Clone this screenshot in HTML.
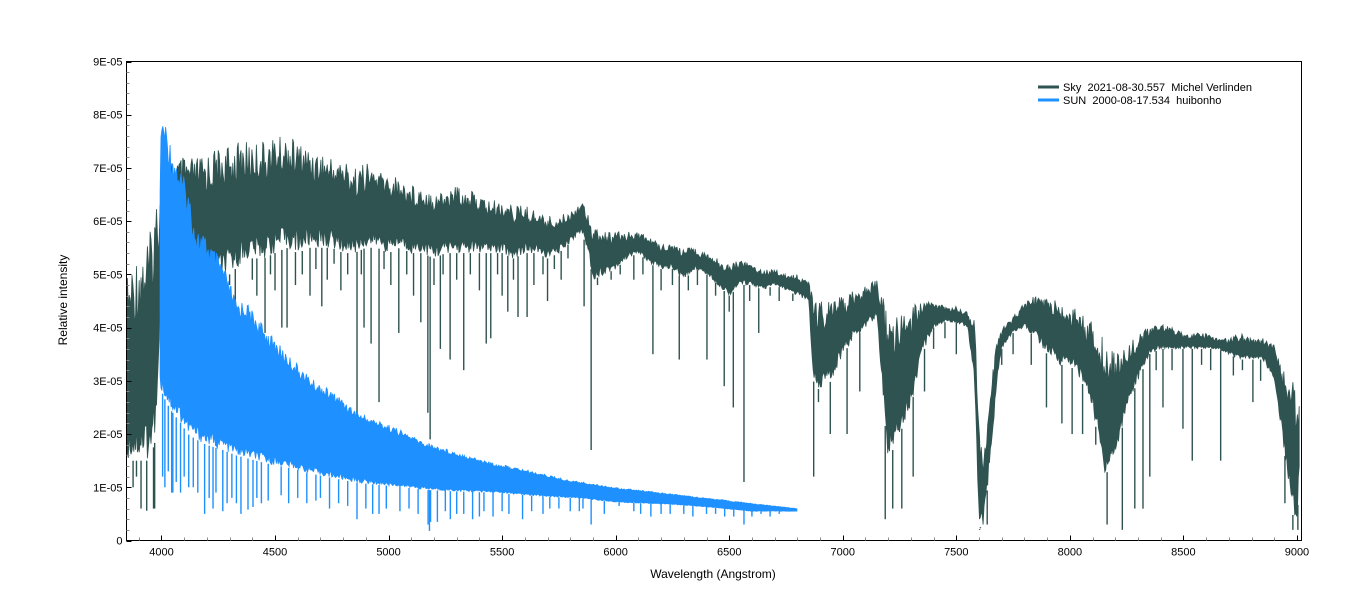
<!DOCTYPE html>
<html><head><meta charset="utf-8"><style>
html,body{margin:0;padding:0;background:#fff;}
svg{display:block;font-family:"Liberation Sans",Arial,sans-serif;}
</style></head><body>
<svg id="chart" width="1360" height="606" viewBox="0 0 1360 606">
<rect x="0" y="0" width="1360" height="606" fill="#fff"/>
<g id="plot"></g>
<g id="axes"></g>
<text x="713" y="578" font-size="12" text-anchor="middle" fill="#000">Wavelength (Angstrom)</text>
<text x="67" y="300" font-size="12" text-anchor="middle" fill="#000" transform="rotate(-90 67 300)">Relative intensity</text>
<g>
<line x1="1038" y1="87" x2="1059" y2="87" stroke="#2f5350" stroke-width="3"/>
<text x="1063" y="91" font-size="11" fill="#000" style="white-space:pre">Sky  2021-08-30.557  Michel Verlinden</text>
<line x1="1038" y1="100" x2="1059" y2="100" stroke="#1e90ff" stroke-width="3"/>
<text x="1063" y="104" font-size="11" fill="#000" style="white-space:pre">SUN  2000-08-17.534  huibonho</text>
</g>
</svg>
<script>
// ---- data (intensity in units of 1E-05) ----
const skyWave=[3846,3850,3900,3950,3980,4000,4050,4100,4150,4200,4250,4300,4350,4400,4450,4500,4550,4600,4650,4700,4750,4800,4850,4900,4950,5000,5050,5100,5150,5200,5250,5300,5350,5400,5450,5500,5550,5600,5650,5700,5750,5800,5850,5880,5900,5950,6000,6050,6100,6150,6200,6250,6300,6350,6400,6450,6500,6550,6600,6650,6700,6750,6800,6850,6870,6900,6950,7000,7050,7100,7150,7170,7200,7250,7300,7350,7400,7450,7500,7550,7580,7600,7620,7650,7680,7700,7750,7800,7850,7900,7950,8000,8050,8100,8150,8200,8250,8300,8350,8400,8450,8500,8550,8600,8650,8700,8750,8800,8850,8900,8950,8980,9000,9013];
const skyTop=[4.8,5.0,5.5,5.8,6.6,6.8,7.2,7.2,7.2,7.3,7.4,7.4,7.5,7.5,7.5,7.6,7.6,7.5,7.4,7.3,7.2,7.2,7.0,7.1,7.0,6.9,6.8,6.7,6.7,6.6,6.6,6.7,6.6,6.5,6.4,6.4,6.3,6.3,6.2,6.1,6.1,6.2,6.4,6.2,5.9,5.8,5.8,5.8,5.8,5.7,5.6,5.6,5.5,5.5,5.4,5.3,5.2,5.3,5.2,5.1,5.1,5.0,5.0,4.9,4.6,4.5,4.5,4.6,4.7,4.8,4.9,4.7,4.2,4.3,4.4,4.5,4.5,4.4,4.4,4.3,4.2,2.5,1.5,3.0,3.8,4.0,4.2,4.5,4.6,4.6,4.5,4.4,4.3,4.1,3.8,3.6,3.7,3.9,4.0,4.1,4.0,3.9,3.9,3.9,3.8,3.8,3.9,3.8,3.8,3.7,3.2,3.0,2.8,2.8];
const skyBottom=[1.5,1.5,1.5,1.5,2.0,5.0,5.2,5.2,4.9,4.9,4.9,5.0,5.2,5.3,5.3,5.4,5.5,5.4,5.5,5.5,5.5,5.4,5.4,5.5,5.5,5.4,5.5,5.4,5.4,5.3,5.4,5.4,5.4,5.4,5.4,5.4,5.3,5.4,5.4,5.3,5.4,5.6,5.8,5.4,4.9,5.0,5.1,5.3,5.4,5.2,5.1,5.1,4.9,5.1,5.0,4.8,4.6,4.8,4.8,4.7,4.8,4.7,4.6,4.5,3.0,2.8,3.0,3.5,3.8,4.0,4.2,3.0,1.5,2.0,2.5,3.5,4.0,4.1,4.1,4.0,3.0,0.2,0.3,1.5,3.0,3.6,3.9,4.0,3.8,3.5,3.3,3.3,3.0,2.5,1.2,1.5,2.5,3.0,3.5,3.6,3.6,3.6,3.6,3.6,3.6,3.5,3.4,3.4,3.4,3.0,1.5,0.5,0.3,1.5];
const skyLineWave=[3875,3890,3910,3935,3965,3970,4456,4530,4553,4654,4706,4861,4892,4923,4958,5045,5142,5173,5183,5228,5271,5331,5430,5450,5525,5570,5610,5700,5760,5861,5892,6164,6280,6402,6478,6518,6565,6630,6872,6893,6945,7019,7075,7187,7220,7260,7310,7360,7500,7603,7606,7636,7897,7965,8010,8056,8114,8164,8231,8286,8322,8352,8410,8498,8539,8664,8806,8947,8982,9004,
4070,4140,4180,4215,4240,4300,4325,4400,4420,4480,4500,4590,4620,4680,4730,4760,4790,4820,4880,4980,5010,5080,5110,5200,5240,5300,5360,5400,5480,5500,5550,5640,5680,5730,5790,5920,5980,6020,6080,6120,6200,6250,6320,6360,6440,6500,6590,6680,6720,6780,7400,7450,7700,7750,7830,8380,8450,8580,8620,8720,8760,8840];
const skyLineMin=[1.0,1.2,0.6,0.56,0.6,0.6,3.9,4.0,4.0,4.6,4.4,2.2,4.0,3.7,2.6,3.9,4.1,2.4,1.9,3.6,3.4,3.2,3.7,3.8,4.3,4.2,4.2,4.5,4.9,4.4,1.7,3.5,3.4,3.4,2.9,2.5,1.1,3.9,1.2,2.6,2.0,2.0,2.8,0.4,0.6,0.6,1.2,2.8,3.5,0.2,0.25,0.3,2.5,2.2,2.0,2.0,1.8,0.3,0.2,0.6,0.6,1.2,2.5,2.1,1.5,1.5,2.6,0.7,0.2,0.2,
5.0,4.6,4.9,4.7,5.2,4.8,4.5,4.9,4.6,5.0,4.7,4.8,5.0,5.1,4.9,5.2,4.7,5.0,5.0,5.1,4.8,5.0,4.6,4.8,5.0,4.9,5.0,4.7,5.0,4.6,4.9,4.8,5.0,5.1,5.3,4.8,4.9,5.0,4.9,5.0,4.7,4.8,4.7,4.8,4.6,4.3,4.5,4.6,4.5,4.5,3.6,3.8,3.3,3.5,3.3,3.2,3.2,3.3,3.2,3.1,3.2,3.0];

const sunWave=[3994,4001,4020,4049,4086,4116,4152,4196,4270,4328,4372,4460,4578,4666,4782,4870,5019,5165,5314,5460,5606,5800,5826,6000,6240,6400,6600,6799];
const sunTop=[7.0,8.08,7.85,7.35,6.97,6.64,5.9,5.72,5.22,4.53,4.5,3.97,3.4,3.03,2.72,2.4,2.15,1.84,1.65,1.46,1.33,1.13,1.12,1.0,0.88,0.8,0.7,0.6];
const sunBottom=[2.8,2.8,2.6,2.4,2.2,2.0,1.9,1.8,1.7,1.6,1.55,1.45,1.35,1.25,1.15,1.08,1.02,0.95,0.92,0.9,0.85,0.8,0.8,0.72,0.68,0.63,0.55,0.55];
const sunLineWave=[4005,4015,4045,4050,4084,4120,4190,4227,4270,4289,4350,4381,4403,4527,4700,4861,4930,4958,5174,5180,5185,5215,5272,5331,5370,5400,5460,5590,5750,5856,5892,6015,6155,6240,6400,6480,6565,6680,
4030,4065,4100,4140,4160,4210,4240,4310,4330,4420,4440,4470,4560,4600,4640,4680,4740,4780,4820,4900,4990,5050,5090,5130,5250,5300,5420,5500,5530,5630,5680,5710,5800,5840,5950,6080,6110,6200,6300,6340,6440,6520,6600,6640,6720];
const sunLineMin=[1.2,1.0,0.9,0.9,0.9,1.0,0.5,0.6,0.55,0.7,0.5,0.58,0.63,0.85,0.8,0.4,0.5,0.5,0.3,0.18,0.35,0.35,0.4,0.5,0.4,0.45,0.45,0.4,0.6,0.6,0.3,0.65,0.45,0.5,0.5,0.45,0.3,0.45,
1.3,1.1,1.2,1.0,0.9,0.8,0.9,0.8,0.7,0.8,0.7,0.75,0.7,0.8,0.7,0.75,0.6,0.7,0.65,0.6,0.6,0.55,0.6,0.5,0.55,0.5,0.55,0.55,0.5,0.55,0.5,0.6,0.55,0.55,0.5,0.55,0.5,0.5,0.5,0.45,0.5,0.45,0.45,0.5,0.5];

const xTicks=[4000,4500,5000,5500,6000,6500,7000,7500,8000,8500,9000];
const yTickVals=[0,1,2,3,4,5,6,7,8,9];
const yTickLabels=["0","1E-05","2E-05","3E-05","4E-05","5E-05","6E-05","7E-05","8E-05","9E-05"];

// ---- scales ----
const X0=126.5,X1=1301.5,Y0=540.5,Y1=61.5,WMIN=3846,WMAX=9020,VMAX=9;
const xs=w=>X0+(w-WMIN)*(X1-X0)/(WMAX-WMIN);
const ys=v=>Y0-v*(Y0-Y1)/VMAX;
const NS="http://www.w3.org/2000/svg";
const plot=document.getElementById('plot'),axes=document.getElementById('axes');
function interp(ws,vs,w){if(w<=ws[0])return vs[0];for(let i=1;i<ws.length;i++){if(w<=ws[i]){const t=(w-ws[i-1])/(ws[i]-ws[i-1]);return vs[i-1]+t*(vs[i]-vs[i-1]);}}return vs[vs.length-1];}
// deterministic jitter for jagged envelope texture (visual only)
function jit(k){const s=Math.sin(k*12.9898)*43758.5453;return s-Math.floor(s);}

function drawSeries(ws,top,bot,lw,lm,color,name,amp){
  const g=document.createElementNS(NS,'g');
  
  
  const w0=ws[0],w1=ws[ws.length-1];
  let topPts=[],botPts=[];
  let k=0;
  for(let w=w0;w<=w1;w+=4){
    k++;
    const t=interp(ws,top,w),b=interp(ws,bot,w);
    const span=Math.max(0,t-b);
    topPts.push(xs(w).toFixed(1)+','+ys(t-jit(k)*span*amp).toFixed(1));
    botPts.push(xs(w).toFixed(1)+','+ys(b+jit(k+999)*span*amp*0.6).toFixed(1));
  }
  const p=document.createElementNS(NS,'polygon');
  p.setAttribute('points',topPts.concat(botPts.reverse()).join(' '));
  p.setAttribute('fill',color);p.setAttribute('stroke',color);p.setAttribute('stroke-width','0.8');
  
  
  g.appendChild(p);
  for(let i=0;i<lw.length;i++){
    const l=document.createElementNS(NS,'line');
    const x=xs(lw[i]);
    l.setAttribute('x1',x);l.setAttribute('x2',x);
    l.setAttribute('y1',ys(interp(ws,bot,lw[i])));l.setAttribute('y2',ys(lm[i]));
    l.setAttribute('stroke',color);l.setAttribute('stroke-width','1.4');
    
    
    g.appendChild(l);
  }
  plot.appendChild(g);
}
drawSeries(skyWave,skyTop,skyBottom,skyLineWave,skyLineMin,'#2f5350','sky-series',0.35);
drawSeries(sunWave,sunTop,sunBottom,sunLineWave,sunLineMin,'#1e90ff','sun-series',0.12);

// frame
const fr=document.createElementNS(NS,'rect');
fr.setAttribute('x',X0);fr.setAttribute('y',Y1);fr.setAttribute('width',X1-X0);fr.setAttribute('height',Y0-Y1);
fr.setAttribute('fill','none');fr.setAttribute('stroke','#000');fr.setAttribute('stroke-width','1');


axes.appendChild(fr);

function mkLine(x1,y1,x2,y2,c,name){const l=document.createElementNS(NS,'line');l.setAttribute('x1',x1);l.setAttribute('y1',y1);l.setAttribute('x2',x2);l.setAttribute('y2',y2);l.setAttribute('stroke',c);l.setAttribute('stroke-width','1');


axes.appendChild(l);}
for(let w=3900;w<=9000;w+=100){const x=Math.round(xs(w))+0.5;const major=w%500===0;mkLine(x,Y0,x,Y0-(major?5:3),major?'#000':'#888',major?'x-major-tick':'x-minor-tick');}
xTicks.forEach(w=>{const t=document.createElementNS(NS,'text');t.setAttribute('x',xs(w));t.setAttribute('y',Y0+15);t.setAttribute('font-size','11');t.setAttribute('text-anchor','middle');t.textContent=String(w);


axes.appendChild(t);});
for(let v=0;v<=9.001;v+=0.2){const y=Math.round(ys(v))+0.5;const major=Math.abs(v-Math.round(v))<1e-6;mkLine(X0,y,X0+(major?5:3),y,major?'#000':'#888',major?'y-major-tick':'y-minor-tick');}
yTickVals.forEach((v,i)=>{const t=document.createElementNS(NS,'text');t.setAttribute('x',X0-4);t.setAttribute('y',ys(v)+4);t.setAttribute('font-size','11');t.setAttribute('text-anchor','end');t.textContent=yTickLabels[i];


axes.appendChild(t);});
</script>
</body></html>
